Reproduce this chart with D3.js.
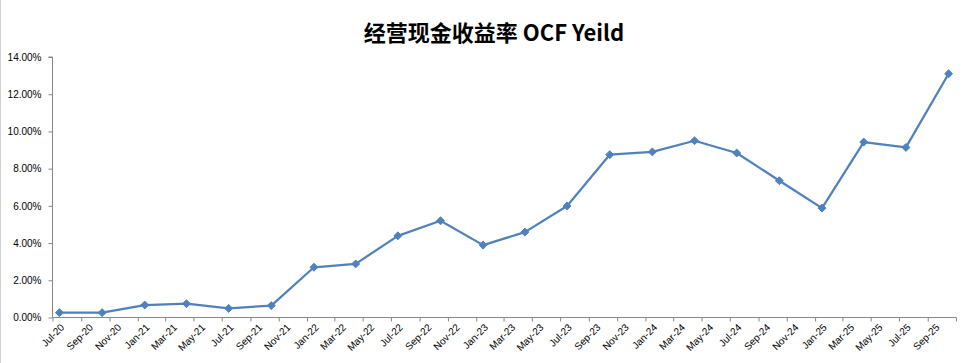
<!DOCTYPE html>
<html>
<head>
<meta charset="utf-8">
<script src="https://cdn.jsdelivr.net/npm/d3@7"></script>
<style>
  body { margin: 0; background: #fff; }
  svg { display: block; }
</style>
</head>
<body>
<svg id="chart" width="967" height="363"></svg>
<script>
// quarterly observations, Jul-20 .. Oct-25
const months = [
  "2020-07", "2020-10",
  "2021-01", "2021-04", "2021-07", "2021-10",
  "2022-01", "2022-04", "2022-07", "2022-10",
  "2023-01", "2023-04", "2023-07", "2023-10",
  "2024-01", "2024-04", "2024-07", "2024-10",
  "2025-01", "2025-04", "2025-07", "2025-10"
];
const ocfYield = [
  0.0026, 0.0026,
  0.0067, 0.0074, 0.0049, 0.0064,
  0.0270, 0.0288, 0.0439, 0.0520,
  0.0389, 0.0459, 0.0599, 0.0875,
  0.0890, 0.0950, 0.0884, 0.0735,
  0.0588, 0.0943, 0.0914, 0.1310
];
const yTicks = [0, 0.02, 0.04, 0.06, 0.08, 0.10, 0.12, 0.14];
const axisStart = "2020-07";
const axisEnd = "2025-11";

const parse = d3.timeParse("%Y-%m");
const mid = d => d3.timeDay.offset(d, 15);

const svg = d3.select("#chart");
const plotL = 52.5, plotR = 956, plotT = 57, plotB = 317.5;

const x = d3.scaleTime()
  .domain([parse(axisStart), parse(axisEnd)])
  .range([plotL, plotR]);
const y = d3.scaleLinear()
  .domain([0, 0.14])
  .range([plotB, plotT]);

const axisColor = "#868686";
const labelFont = "'Liberation Sans', Arial, sans-serif";

// faint sheet border on the left
svg.append("line")
  .attr("x1", 0.5).attr("x2", 0.5).attr("y1", 0).attr("y2", 363)
  .attr("stroke", "#d0d0d0");

// title
svg.append("text")
  .attr("x", 494).attr("y", 41)
  .attr("text-anchor", "middle")
  .style("font-family", "'Noto Sans CJK SC', sans-serif")
  .style("font-weight", "bold")
  .style("font-size", "22px")
  .attr("fill", "#000")
  .text("经营现金收益率 OCF Yeild");

// y axis
const yAxis = svg.append("g")
  .attr("transform", `translate(${plotL},0)`)
  .call(d3.axisLeft(y).tickValues(yTicks).tickSize(4).tickPadding(7)
    .tickFormat(d => (d * 100).toFixed(2) + "%"));
yAxis.select(".domain").attr("stroke", axisColor).attr("d", `M-4,${plotT}H0V${plotB}`);
yAxis.selectAll(".tick line").attr("stroke", axisColor);
yAxis.selectAll(".tick text")
  .style("font-family", labelFont).style("font-size", "10px").attr("fill", "#000");

// x axis: ticks every 2 months, labels centred in the month
const tickDates = d3.timeMonth.every(2).range(parse(axisStart), d3.timeDay.offset(parse(axisEnd), 1));
const xAxis = svg.append("g")
  .attr("transform", `translate(0,${plotB})`)
  .call(d3.axisBottom(x).tickValues(tickDates).tickSize(4).tickFormat(""));
xAxis.select(".domain").attr("stroke", axisColor).attr("d", `M${plotL},0H${plotR}`);
xAxis.selectAll(".tick line").attr("stroke", axisColor);

const fmt = d3.timeFormat("%b-%y");
svg.append("g")
  .selectAll("text")
  .data(tickDates.slice(0, -1))
  .join("text")
    .attr("transform", d => `translate(${x(mid(d)) + 3},${plotB + 8}) rotate(-45)`)
    .attr("text-anchor", "end")
    .attr("dy", "0.35em")
    .style("font-family", labelFont).style("font-size", "10px")
    .attr("fill", "#000")
    .text(d => fmt(d));

// series
const pts = months.map((m, i) => ({ date: mid(parse(m)), value: ocfYield[i] }));
const blue = "#4F81BD";

svg.append("path")
  .datum(pts)
  .attr("fill", "none")
  .attr("stroke", blue)
  .attr("stroke-width", 2.25)
  .attr("stroke-linejoin", "round")
  .attr("d", d3.line().x(d => x(d.date)).y(d => y(d.value)));

svg.append("g")
  .selectAll("path")
  .data(pts)
  .join("path")
    .attr("transform", d => `translate(${x(d.date)},${y(d.value)})`)
    .attr("d", d3.symbol(d3.symbolDiamond2, 40)())
    .attr("fill", blue)
    .attr("stroke", blue)
    .attr("stroke-width", 1);
</script>
</body>
</html>
